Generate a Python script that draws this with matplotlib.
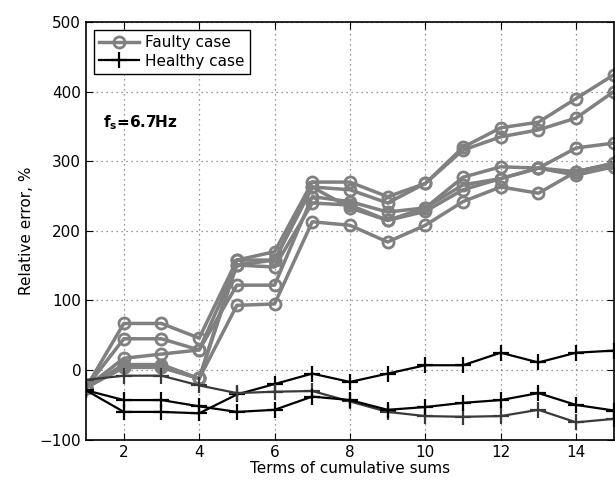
import matplotlib
matplotlib.use('Agg')
import matplotlib.pyplot as plt
import numpy as np

terms = np.arange(1, 16)

# faulty case curves (%)
faulty1 = [-25, 67, 67, 46, 158, 170, 270, 270, 249, 268, 320, 348, 356, 390, 424]
faulty2 = [-25, 45, 45, 29, 151, 158, 263, 259, 240, 268, 316, 335, 345, 362, 400]
faulty3 = [-25, 17, 23, 29, 122, 122, 249, 242, 227, 233, 277, 292, 290, 319, 326]
faulty4 = [-25, 4, 4, -12, 93, 95, 213, 208, 184, 208, 242, 263, 254, 285, 297]
faulty5 = [-25, 4, 4, -12, 151, 148, 240, 237, 215, 228, 259, 275, 290, 280, 292]
faulty6 = [-25, 8, 8, -12, 158, 158, 263, 233, 215, 233, 266, 275, 290, 285, 297]

# healthy case curves (%)
healthy1 = [-29, -60, -60, -62, -35, -20, -5, -17, -5, 7, 7, 25, 11, 25, 28]
healthy2 = [-14, -8, -8, -22, -33, -31, -30, -45, -60, -66, -67, -66, -57, -75, -70]
healthy3 = [-29, -43, -43, -52, -60, -57, -38, -43, -57, -53, -47, -43, -33, -50, -58]

faulty = [faulty1, faulty2, faulty3, faulty4, faulty5, faulty6]
healthy = [healthy1, healthy2, healthy3]
healthy_colors = ['black', '#3a3a3a', 'black']

fig = plt.figure(figsize=(6.15, 4.87), dpi=100)
ax = fig.add_axes([0.14, 0.097, 0.858, 0.858])

gray = '#808080'
for i, f in enumerate(faulty):
    ax.plot(terms, f, color=gray, lw=2.5, marker='o', ms=8, mfc='none',
            mew=2, mec=gray, label='Faulty case' if i == 0 else None)
for i, h in enumerate(healthy):
    ax.plot(terms, h, color=healthy_colors[i], lw=1.6, marker='+', ms=11,
            mew=1.6, label='Healthy case' if i == 0 else None)

ax.set_xlim(1, 15)
ax.set_ylim(-100, 500)
ax.set_xticks([2, 4, 6, 8, 10, 12, 14])
ax.set_yticks(np.arange(-100, 501, 100))
ax.grid(True, linestyle=(0, (1, 3)), color='#777777', lw=0.9)
ax.tick_params(direction='in', top=True, right=True, labelsize=11, length=5)
for sp in ax.spines.values():
    sp.set_linewidth(1.2)

ax.set_xlabel('Terms of cumulative sums', fontsize=11, labelpad=1)
ax.set_ylabel('Relative error, %', fontsize=11)

leg = ax.legend(loc='upper left', fontsize=11, frameon=True, fancybox=False,
                edgecolor='black', handlelength=2.6, borderpad=0.35,
                labelspacing=0.25, handletextpad=0.4, borderaxespad=0.5)
leg.get_frame().set_linewidth(1.0)
leg.get_frame().set_alpha(1)

ax.text(1.45, 355, r'f$_\mathbf{s}$=6.7Hz', fontsize=11, fontweight='bold',
        va='center')

plt.savefig('out.png', dpi=100)
plt.close()
